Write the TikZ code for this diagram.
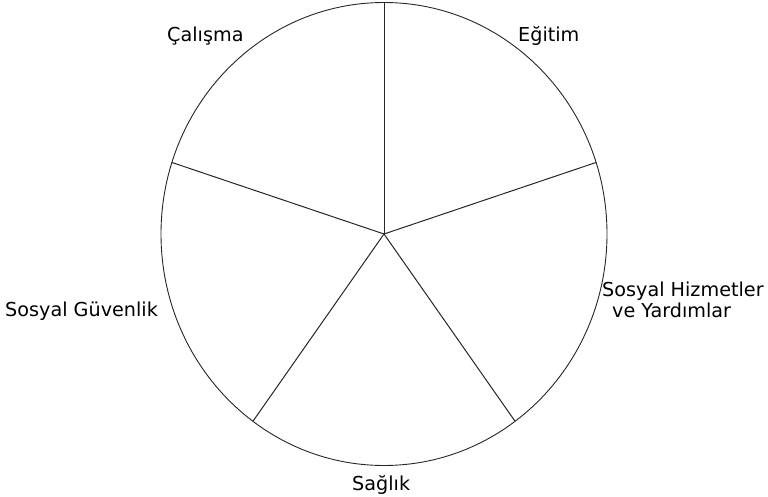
\documentclass[tikz,border=0pt]{standalone}
\usepackage{fontspec}
\setmainfont{DejaVu Sans}
\usetikzlibrary{positioning,calc}
\tikzset{
  lbl/.style={inner sep=0pt, anchor=base west, font=\fontsize{19.2}{20.5}\selectfont, align=left},
  spoke/.style={draw=black!85, line width=1pt},
  rim/.style={draw=black!85, line width=0.9pt},
}

\begin{document}
\begin{tikzpicture}[x=1pt, y=1pt]
\useasboundingbox (0,0) rectangle (768,496);

\coordinate (c) at (384,262);
\draw[rim] (c) ellipse [x radius=223, y radius=231.5];

\coordinate (pa) at ($(c)+(90:223 and 231.5)$);
\coordinate (pb) at ($(c)+(18:223 and 231.5)$);
\coordinate (pc) at ($(c)+(-54:223 and 231.5)$);
\coordinate (pd) at ($(c)+(-126:223 and 231.5)$);
\coordinate (pe) at ($(c)+(162:223 and 231.5)$);

\draw[spoke] (c) -- (pa);
\draw[spoke] (c) -- (pb);
\draw[spoke] (c) -- (pc);
\draw[spoke] (c) -- (pd);
\draw[spoke] (c) -- (pe);

\node[lbl] (calisma) at (167,454) {Çalışma};
\node[lbl] (egitim) at (518,454) {Eğitim};
\node[lbl] (guvenlik) at (5,180) {Sosyal Güvenlik};
\node[lbl] (hizmet) at (602,179) {Sosyal Hizmetler\\\hspace*{10pt}ve Yardımlar};
\node[lbl] (saglik) at (352,6) {Sağlık};

\end{tikzpicture}
\end{document}
